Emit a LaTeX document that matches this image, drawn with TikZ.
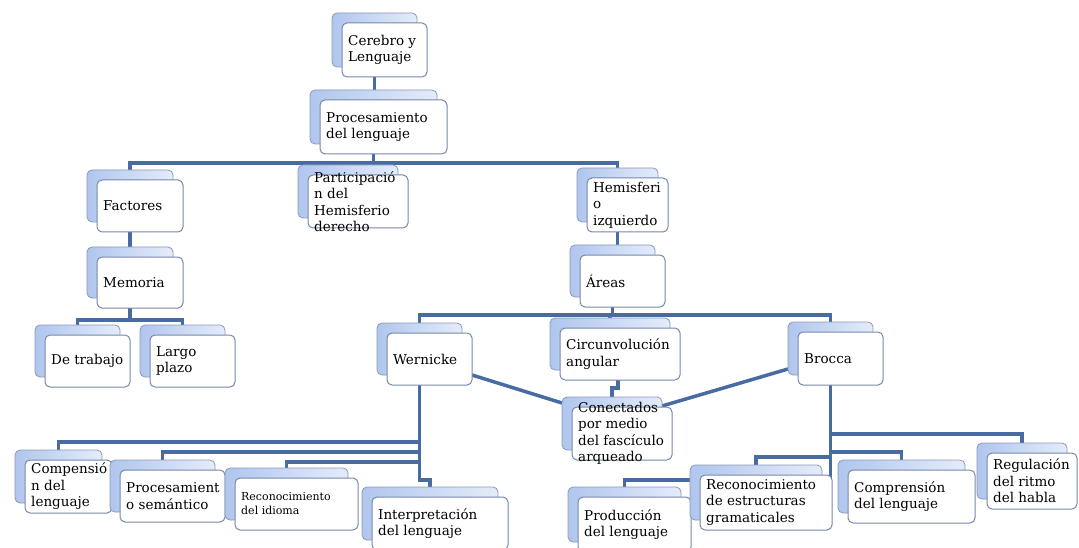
\documentclass[tikz,border=0pt]{standalone}
\usepackage{fontspec}
\setmainfont{DejaVu Serif}
\usetikzlibrary{calc}
\definecolor{conncol}{RGB}{72,108,162}
\definecolor{edgecol}{RGB}{118,136,170}
\definecolor{backL}{RGB}{176,198,238}
\definecolor{backR}{RGB}{228,236,250}
\pgfdeclarelayer{bg}
\pgfsetlayers{bg,main}
\newcommand\cardfont{\fontsize{13.5}{16.5}\selectfont}
\newcommand\cardsmall{\fontsize{11}{14}\selectfont}
\newcommand\card[7]{%
  \pgfmathsetmacro\cardw{#4-#2}%
  \pgfmathsetmacro\cardh{#5-#3}%
  \node[backbox,minimum width=\cardw pt,minimum height=\cardh pt] (#1-b) at (#2-10,#3-10) {};
  \node[frontbox,minimum width=\cardw pt,minimum height=\cardh pt] (#1) at (#2,#3) {};
  \node[cardtext,font=#6] (#1-t) at ([xshift=6pt]#1.west) {#7};
}
\tikzset{
  backbox/.style={draw=edgecol!85, line width=0.8pt, rounded corners=5pt,
    left color=backL, right color=backR, anchor=north west, inner sep=0pt, outer sep=0pt},
  frontbox/.style={draw=edgecol, line width=1pt, rounded corners=5pt,
    fill=white, anchor=north west, inner sep=0pt, outer sep=0pt},
  cardtext/.style={anchor=west, align=left, inner sep=0pt},
  conn/.style={draw=conncol, line width=3.5pt}
}
\begin{document}
\begin{tikzpicture}[x=1pt,y=-1pt]
\useasboundingbox (0,0) rectangle (1079,548);

\card{cer}{342}{23}{427}{77}{\cardfont}{Cerebro y\\Lenguaje}
\card{proc}{320}{100}{447}{154}{\cardfont}{Procesamiento\\del lenguaje}
\card{fact}{97}{180}{183}{232}{\cardfont}{Factores}
\card{part}{308}{175}{408}{228}{\cardfont}{Participació\\n del\\Hemisferio\\derecho}
\card{hemi}{587}{178}{668}{232}{\cardfont}{Hemisferi\\o\\izquierdo}
\card{mem}{97}{257}{183}{308}{\cardfont}{Memoria}
\card{are}{580}{255}{665}{307}{\cardfont}{Áreas}
\card{dt}{45}{335}{130}{387}{\cardfont}{De trabajo}
\card{lp}{150}{335}{235}{387}{\cardfont}{Largo\\plazo}
\card{wern}{387}{333}{472}{385}{\cardfont}{Wernicke}
\card{circ}{560}{328}{680}{380}{\cardfont}{Circunvolución\\angular}
\card{broc}{798}{332}{883}{385}{\cardfont}{Brocca}
\card{conec}{572}{407}{672}{460}{\cardfont}{Conectados\\por medio\\del fascículo\\arqueado}
\card{comp}{25}{460}{112}{513}{\cardfont}{Compensió\\n del\\lenguaje}
\card{procsem}{120}{470}{225}{522}{\cardfont}{Procesamient\\o semántico}
\card{recid}{235}{478}{358}{530}{\cardsmall}{Reconocimiento\\del idioma}
\card{interp}{372}{497}{508}{550}{\cardfont}{Interpretación\\del lenguaje}
\card{prod}{578}{497}{691}{552}{\cardfont}{Producción\\del lenguaje}
\card{rece}{700}{475}{832}{530}{\cardfont}{Reconocimiento\\de estructuras\\gramaticales}
\card{compl}{848}{470}{975}{523}{\cardfont}{Comprensión\\del lenguaje}
\card{reg}{987}{453}{1077}{509}{\cardfont}{Regulación\\del ritmo\\del habla}

\begin{pgfonlayer}{bg}
\fill[white] (0,0) rectangle (1079,548);
\coordinate (lv1) at (0,163);
\coordinate (lv2) at (0,320);
\coordinate (lv3) at (0,315);
\coordinate (lw1) at (0,442);
\coordinate (lw2) at (0,452);
\coordinate (lw3) at (0,462);
\coordinate (lw4) at (0,480);
\coordinate (lb1) at (0,434);
\coordinate (lb2) at (0,452);
\coordinate (lb3) at (0,457);
\coordinate (lb4) at (0,480);
% top
\draw[conn] (cer-b.center |- cer.south) -- (cer-b.center |- proc-b.north);
\draw[conn] (proc-b.center |- proc.south) -- (proc-b.center |- lv1);
\draw[conn] (fact-b.north) |- (hemi-b.north |- lv1) -- (hemi-b.north);
\draw[conn] (part-b.center |- lv1) -- (part-b.north);
% left branch
\draw[conn] (fact-b.center |- fact.south) -- (mem-b.north);
\draw[conn] (mem-b.center |- mem.south) -- (mem-b.center |- lv2);
\draw[conn] (dt-b.north) |- (lp-b.north |- lv2) -- (lp-b.north);
% right branch
\draw[conn] (hemi-b.center |- hemi.south) -- (hemi-b.center |- are-b.north);
\draw[conn] (are-b.center |- are.south) -- (are-b.center |- lv3);
\draw[conn] (wern-b.north) |- (broc-b.north |- lv3) -- (broc-b.north);
\draw[conn] (circ-b.center |- lv3) -- (circ-b.north);
\draw[conn] ([xshift=-2pt]circ.south) -- ++(0,8) -| (conec-b.north);
\draw[conn] ([yshift=10pt]wern.south east) -- ([yshift=-6pt]conec-b.north west);
\draw[conn] ([yshift=6pt]broc-b.south west) -- ([yshift=-9pt]conec-b.north east);
% Wernicke children
\draw[conn] (wern-b.center |- wern.south) -- (wern-b.center |- lw4) -| (interp-b.north);
\draw[conn] (wern-b.center |- lw1) -| (comp-b.north);
\draw[conn] (wern-b.center |- lw2) -| (procsem-b.north);
\draw[conn] (wern-b.center |- lw3) -| (recid-b.north);
% Brocca children
\draw[conn] (broc-b.center |- broc.south) -- (broc-b.center |- lb4) -| (prod-b.north);
\draw[conn] (broc-b.center |- lb1) -| (reg-b.north);
\draw[conn] (broc-b.center |- lb2) -| (compl-b.north);
\draw[conn] (broc-b.center |- lb3) -| (rece-b.north);
\end{pgfonlayer}
\end{tikzpicture}
\end{document}
